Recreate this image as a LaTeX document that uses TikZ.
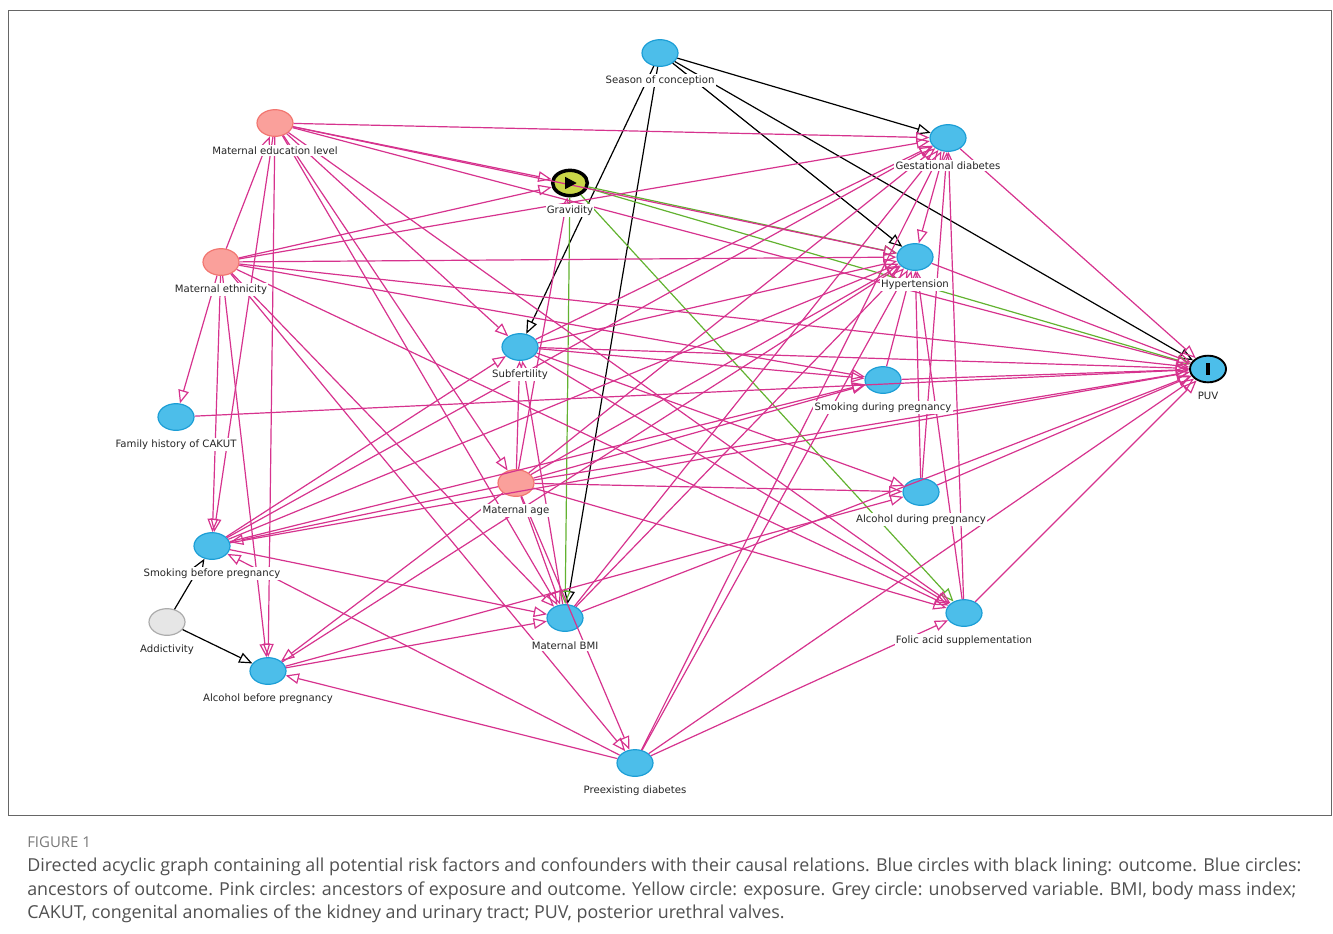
\documentclass[tikz,border=0pt]{standalone}
\usepackage{fontspec}
\setmainfont{DejaVu Sans}
\newfontfamily\capfont{Open Sans}
\usetikzlibrary{arrows.meta,shapes.geometric}

\definecolor{dagpink}{RGB}{214,51,142}
\definecolor{daggreen}{RGB}{98,178,48}
\definecolor{ancblue}{RGB}{76,190,234}
\definecolor{ancbluedraw}{RGB}{28,158,214}
\definecolor{confpink}{RGB}{250,160,155}
\definecolor{confpinkdraw}{RGB}{242,118,112}
\definecolor{latgrey}{RGB}{230,230,230}
\definecolor{latgreydraw}{RGB}{172,172,172}
\definecolor{expyellow}{RGB}{201,214,72}
\definecolor{capgrey}{RGB}{80,80,80}
\definecolor{figgrey}{RGB}{120,120,120}

\tikzset{
  var/.style={ellipse, minimum width=27pt, minimum height=20pt, inner sep=0pt, line width=0.9pt},
  anc/.style={var, fill=ancblue, draw=ancbluedraw},
  conf/.style={var, fill=confpink, draw=confpinkdraw},
  latent/.style={var, fill=latgrey, draw=latgreydraw},
  expo/.style={var, fill=expyellow, draw=black, line width=2.6pt, minimum width=26pt, minimum height=19pt},
  outc/.style={var, fill=ancblue, draw=black, line width=1.4pt},
  lab/.style={fill=white, inner sep=1pt, text=black!85, font=\fontsize{7.6}{8}\selectfont},
  edge/.style={line width=0.9pt, -{Triangle[open, length=10pt, width=8pt]}},
  pe/.style={edge, draw=dagpink},
  ge/.style={edge, draw=daggreen},
  be/.style={edge, draw=black},
  captext/.style={anchor=base west, inner sep=0pt, text=capgrey, font=\capfont\fontsize{13.4}{16}\selectfont},
}

\begin{document}
\begin{tikzpicture}[x=0.75pt, y=-0.75pt]
\useasboundingbox (0,0) rectangle (1333,933);
\draw[black!60, line width=0.6pt] (8,10) rectangle (1331,815);

% variables
\node[anc] (season) at (660,53) {};
\node[anc] (gd) at (948,138) {};
\node[conf] (edu) at (275,123) {};
\node[expo] (grav) at (570,183) {};
\node[conf] (eth) at (221,262) {};
\node[anc] (hyp) at (915,257) {};
\node[anc] (subf) at (520,347) {};
\node[anc] (smokdur) at (883,380) {};
\node[outc] (puv) at (1208,369) {};
\node[anc] (famhist) at (176,417) {};
\node[conf] (matage) at (516,483) {};
\node[anc] (alcdur) at (921,492) {};
\node[anc] (smokbef) at (212,546) {};
\node[anc] (bmi) at (565,618) {};
\node[anc] (folic) at (964,613) {};
\node[latent] (addict) at (167,622) {};
\node[anc] (alcbef) at (268,671) {};
\node[anc] (prediab) at (635,763) {};

% edges
\foreach \a/\b in {season/gd, season/hyp, season/puv, season/subf, season/bmi,
    addict/smokbef, addict/alcbef}
  \draw[be] (\a) -- (\b);
\foreach \a/\b in {grav/hyp, grav/puv, grav/folic, grav/bmi}
  \draw[ge] (\a) -- (\b);
\foreach \a/\b in {edu/gd, edu/grav, edu/hyp, edu/puv, edu/subf, edu/matage, edu/bmi,
    edu/smokbef, edu/alcbef, edu/folic,
    eth/edu, eth/grav, eth/gd, eth/hyp, eth/puv, eth/famhist, eth/smokbef, eth/alcbef,
    eth/bmi, eth/prediab, eth/smokdur, eth/folic,
    matage/grav, matage/subf, matage/gd, matage/hyp, matage/puv, matage/smokdur,
    matage/alcdur, matage/folic, matage/prediab, matage/smokbef, matage/alcbef, matage/bmi,
    subf/gd, subf/hyp, subf/puv, subf/smokdur, subf/alcdur, subf/folic, bmi/subf,
    smokbef/subf, smokbef/gd, smokbef/hyp, smokbef/smokdur, smokbef/bmi, smokbef/puv,
    alcbef/bmi, alcbef/alcdur, alcbef/hyp,
    bmi/gd, bmi/hyp, bmi/puv,
    prediab/gd, prediab/hyp, prediab/puv, prediab/folic, prediab/smokbef, prediab/alcbef,
    folic/gd, folic/hyp, folic/puv,
    gd/hyp, gd/puv, hyp/puv,
    smokdur/puv, smokdur/hyp, alcdur/puv, alcdur/hyp, alcdur/gd,
    famhist/puv}
  \draw[pe] (\a) -- (\b);

% marks inside exposure and outcome
\fill[black] ([xshift=-3.6pt, yshift=4.6pt]grav.center) -- ([xshift=-3.6pt, yshift=-4.6pt]grav.center)
  -- ([xshift=5pt]grav.center) -- cycle;
\fill[black] ([xshift=-1.3pt, yshift=-4.8pt]puv.center) rectangle ([xshift=1.3pt, yshift=4.8pt]puv.center);

% labels
\foreach \n/\t in {season/Season of conception, gd/Gestational diabetes,
    edu/Maternal education level, grav/Gravidity, eth/Maternal ethnicity,
    hyp/Hypertension, subf/Subfertility, smokdur/Smoking during pregnancy, puv/PUV,
    famhist/Family history of CAKUT, matage/Maternal age, alcdur/Alcohol during pregnancy,
    smokbef/Smoking before pregnancy, bmi/Maternal BMI, folic/Folic acid supplementation,
    addict/Addictivity, alcbef/Alcohol before pregnancy, prediab/Preexisting diabetes}
  \node[lab] (l-\n) at ([yshift=-20.5pt]\n.center) {\t};

% caption
\node[anchor=base west, inner sep=0pt, text=figgrey, font=\capfont\fontsize{11.2}{13}\selectfont] (figno) at (27,847) {FIGURE 1};
\node[captext] (cap1) at (27,871)
  {Directed acyclic graph containing all potential risk factors and confounders with their causal relations. Blue circles with black lining: outcome. Blue circles:};
\node[captext] (cap2) at (27,895)
  {ancestors of outcome. Pink circles: ancestors of exposure and outcome. Yellow circle: exposure. Grey circle: unobserved variable. BMI, body mass index;};
\node[captext] (cap3) at (27,918)
  {CAKUT, congenital anomalies of the kidney and urinary tract; PUV, posterior urethral valves.};
\end{tikzpicture}
\end{document}
